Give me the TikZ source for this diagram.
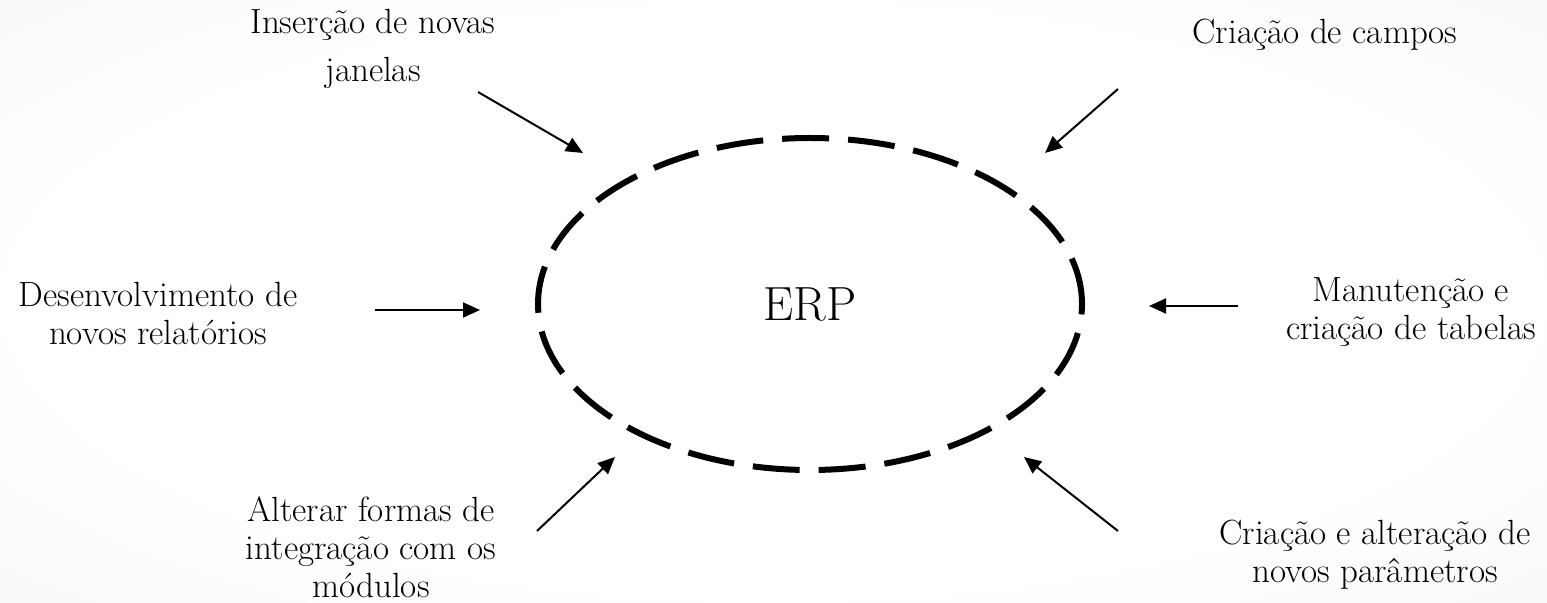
\documentclass[tikz,border=0pt]{standalone}
\usepackage{fontspec}
\usetikzlibrary{positioning,shapes.geometric,arrows.meta}

\pgfdeclareradialshading{slidebg}{\pgfpoint{0bp}{0bp}}{color(0bp)=(white); color(24bp)=(white); color(50bp)=(black!5); color(72bp)=(black!10)}

\tikzset{
  lbl/.style={align=center, inner sep=0pt, font=\fontsize{17.5}{19}\selectfont},
  feed/.style={line width=1pt, -{Triangle[length=8.5pt,width=7.5pt]}},
  core/.style={ellipse, draw, line width=3pt, dash pattern=on 23.5pt off 9.5pt,
    minimum width=272pt, minimum height=166pt, inner sep=0pt,
    font=\fontsize{24}{28}\selectfont}
}

\begin{document}
\begin{tikzpicture}[x=0.5pt,y=-0.5pt]
\useasboundingbox (0,0) rectangle (1547,603);
\shade[shading=slidebg] (0,0) rectangle (1547,603);

\node[core] (erp) at (810,304) {ERP};

\node[lbl] (ins) at (373,49) {Inserção de novas\\[5pt]janelas};
\node[lbl] (cam) at (1325,35) {Criação de campos};
\node[lbl] (des) at (158,313) {Desenvolvimento de\\novos relatórios};
\node[lbl] (man) at (1411,312) {Manutenção e\\criação de tabelas};
\node[lbl] (alt) at (371,547) {Alterar formas de\\integração com os\\módulos};
\node[lbl] (par) at (1375,555) {Criação e alteração de\\novos parâmetros};

\coordinate (insA) at (478,92);
\coordinate (insB) at (583,153);
\coordinate (camA) at (1118,89);
\coordinate (camB) at (1045,153);
\coordinate (desA) at (375,310);
\coordinate (desB) at (480,310);
\coordinate (manA) at (1238,306);
\coordinate (manB) at (1149,306);
\coordinate (altA) at (537,531);
\coordinate (altB) at (615,457);
\coordinate (parA) at (1118,531);
\coordinate (parB) at (1024,457);

\draw[feed] (insA) -- (insB);
\draw[feed] (camA) -- (camB);
\draw[feed] (desA) -- (desB);
\draw[feed] (manA) -- (manB);
\draw[feed] (altA) -- (altB);
\draw[feed] (parA) -- (parB);
\end{tikzpicture}
\end{document}
